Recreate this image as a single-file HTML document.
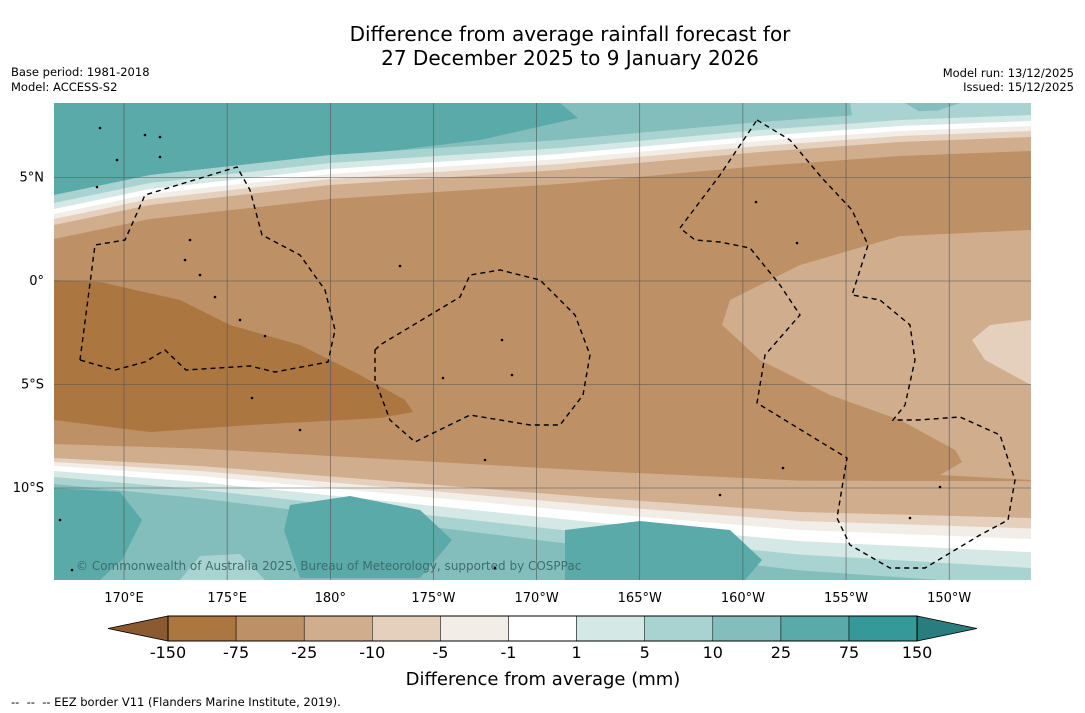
<!DOCTYPE html>
<html><head><meta charset="utf-8">
<style>
body{margin:0;background:#fff;width:1085px;height:713px;overflow:hidden;font-family:"DejaVu Sans","Liberation Sans",sans-serif;}
.t{position:absolute;font-size:11.5px;color:#000;}
</style></head><body>
<div style="position:absolute;left:0;width:1140px;top:22px;text-align:center;font-size:20px;line-height:24px;">Difference from average rainfall forecast for<br>27 December 2025 to 9 January 2026</div>
<div class="t" style="left:11px;top:65px;">Base period: 1981-2018</div>
<div class="t" style="left:11px;top:80px;">Model: ACCESS-S2</div>
<div class="t" style="right:11px;top:66px;text-align:right;">Model run: 13/12/2025</div>
<div class="t" style="right:11px;top:80px;text-align:right;">Issued: 15/12/2025</div>
<svg id="s" width="1085" height="713" style="position:absolute;left:0;top:0;font-family:'DejaVu Sans','Liberation Sans',sans-serif"></svg>
<div class="t" style="left:11px;top:695px;">-- &nbsp;-- &nbsp;-- EEZ border V11 (Flanders Marine Institute, 2019).</div>
<script>
const levelLabels=["-150","-75","-25","-10","-5","-1","1","5","10","25","75","150"];
const levelColors=["#ab7640","#bd9065","#d0ad8c","#e4d0bd","#f2ede7","#ffffff","#d4e8e5","#a9d3d1","#83bebd","#5aaaaa","#35999a"];
const lonLabels=["170°E","175°E","180°","175°W","170°W","165°W","160°W","155°W","150°W"];
const lonValues=[170,175,180,185,190,195,200,205,210];
const latLabels=["5°N","0°","5°S","10°S"];
const latValues=[5,0,-5,-10];
const NS="http://www.w3.org/2000/svg";
const s=document.getElementById('s');
const X0=54,X1=1031,Y0=103,Y1=580;
const xLon=l=>124+(l-170)*20.63;
const yLat=l=>281-l*20.7;
function el(t,a,p){const e=document.createElementNS(NS,t);for(const k in a)e.setAttribute(k,a[k]);(p||s).appendChild(e);return e;}
const defs=el('defs',{});const cp=el('clipPath',{id:'c'},defs);el('rect',{x:X0,y:Y0,width:X1-X0,height:Y1-Y0},cp);
const g=el('g',{'clip-path':'url(#c)'});


el('rect',{x:X0,y:Y0,width:X1-X0,height:Y1-Y0,fill:'#83bebd'},g);
function poly(pts,fill,name){const p=el('polygon',{points:pts.map(q=>q.join(',')).join(' '),fill:fill},g);return p;}
poly([[54,103],[560,103],[578,118],[480,140],[300,162],[150,182],[54,205]],'#5aaaaa','teal-top-left');
poly([[850,103],[1031,103],[1031,122],[855,132]],'#a9d3d1','teal-top-right');
poly([[905,103],[960,103],[925,115]],'#83bebd','teal-top-right-spot');
const T=[[54,225],[150,205],[330,185],[560,170],[760,152],[900,142],[1031,137]];
const B=[[54,458],[200,466],[400,482],[600,498],[800,512],[1031,518]];
function band(dt,db,col,name){const up=T.map(p=>[p[0],p[1]-dt]);const lo=B.slice().reverse().map(p=>[p[0],p[1]+db*(1+(p[0]-54)/600)]);
up.unshift([40,up[0][1]]);up.push([1045,up[up.length-1][1]]);lo.unshift([1045,lo[0][1]]);lo.push([40,lo[lo.length-1][1]]);poly(up.concat(lo),col,name);}
band(30,26,'#a9d3d1','band-5');band(22,19,'#d4e8e5','band-1');band(16,13,'#ffffff','band-neutral');band(11,8,'#f2ede7','band-m5');band(6,4,'#e4d0bd','band-m10');band(0,0,'#d0ad8c','band-m25');band(-14,-14,'#bd9065','band-m75');
poly([[1031,230],[900,236],[800,265],[730,300],[722,325],[760,360],[830,395],[900,420],[955,450],[962,462],[940,475],[1031,480]],'#d0ad8c','light-brown-east');
poly([[1031,320],[990,325],[972,340],[985,360],[1031,385]],'#e4d0bd','lightest-brown-east');
poly([[54,280],[100,282],[180,300],[230,325],[300,345],[360,375],[405,400],[413,412],[380,418],[250,425],[150,432],[54,420]],'#ab7640','dark-brown-west');
poly([[54,488],[120,492],[142,520],[122,560],[100,580],[54,580]],'#5aaaaa','teal-bottom-1');
poly([[290,505],[350,496],[420,510],[452,540],[420,578],[300,578],[284,530]],'#5aaaaa','teal-bottom-2');
poly([[565,530],[640,521],[730,530],[762,560],[745,580],[565,580]],'#5aaaaa','teal-bottom-3');
poly([[180,580],[200,556],[240,554],[265,580]],'#a9d3d1','teal-bottom-light');
lonValues.forEach((l,i)=>{el('line',{x1:xLon(l),x2:xLon(l),y1:Y0,y2:Y1,stroke:'#555','stroke-width':0.6},g);
 const t=el('text',{x:xLon(l),y:602,'text-anchor':'middle','font-size':13,fill:'#000'});t.textContent=lonLabels[i];
 });
latValues.forEach((l,i)=>{el('line',{x1:X0,x2:X1,y1:yLat(l),y2:yLat(l),stroke:'#555','stroke-width':0.6},g);
 const t=el('text',{x:44,y:yLat(l)+4,'text-anchor':'end','font-size':13,fill:'#000'});t.textContent=latLabels[i];
 });
function dash(pts,name,closed){const d='M'+pts.map(p=>p.join(',')).join(' L')+(closed?' Z':'');const p=el('path',{d:d,fill:'none',stroke:'#000','stroke-width':1.4,'stroke-dasharray':'5,4'},g);}
dash([[80,360],[95,245],[125,240],[145,195],[237,167],[250,190],[262,235],[300,255],[325,290],[335,330],[328,362],[275,372],[250,366],[186,370],[165,350],[145,362],[115,370]],'eez-west',true);
dash([[375,350],[380,345],[460,297],[470,275],[500,270],[540,280],[575,315],[590,355],[583,395],[560,425],[530,425],[470,415],[415,442],[390,420],[375,380]],'eez-central',true);
dash([[757,120],[790,140],[822,178],[852,210],[868,245],[852,295],[880,300],[910,325],[915,360],[905,405],[893,420],[918,420],[960,417],[1000,435],[1015,480],[1008,520],[980,535],[955,550],[925,568],[890,568],[850,545],[837,518],[847,458],[757,403],[765,355],[800,315],[780,285],[750,248],[720,242],[695,240],[680,228],[720,175],[757,120]],'eez-east',false);
[[190,240],[185,260],[200,275],[215,297],[240,320],[265,336],[502,340],[783,468],[797,243],[756,202],[145,135],[160,137],[720,495],[60,520],[72,570],[495,568],[100,128],[117,160],[97,187],[160,157],[400,266],[443,378],[512,375],[485,460],[300,430],[252,398],[940,487],[910,518]].forEach(p=>{const e=el('circle',{cx:p[0],cy:p[1],r:1.3,fill:'#000'},g);});
const cr=el('text',{x:76,y:570,'font-size':12,fill:'#3d6e6e'},g);cr.textContent='© Commonwealth of Australia 2025, Bureau of Meteorology, supported by COSPPac';

const cb=el('g',{});
const cx0=168,cw=68.1,cy=616,ch=25;
el('polygon',{points:`108,${cy+ch/2} ${cx0},${cy} ${cx0},${cy+ch}`,fill:'#8b5a30',stroke:'#000','stroke-width':0.8},cb);
levelColors.forEach((c,i)=>{const r=el('rect',{x:cx0+i*cw,y:cy,width:cw,height:ch,fill:c,stroke:'#000','stroke-width':0.5},cb);});
const ce=cx0+levelColors.length*cw;
el('polygon',{points:`${ce},${cy} 977,${cy+ch/2} ${ce},${cy+ch}`,fill:'#2a7d7e',stroke:'#000','stroke-width':0.8},cb);
el('rect',{x:cx0,y:cy,width:ce-cx0,height:ch,fill:'none',stroke:'#000','stroke-width':1},cb);
levelLabels.forEach((l,i)=>{const t=el('text',{x:cx0+i*cw,y:658,'text-anchor':'middle','font-size':16,fill:'#000'},cb);t.textContent=l;});
const ct=el('text',{x:543,y:685,'text-anchor':'middle','font-size':18,fill:'#000'},cb);ct.textContent='Difference from average (mm)';

</script>
</body></html>
